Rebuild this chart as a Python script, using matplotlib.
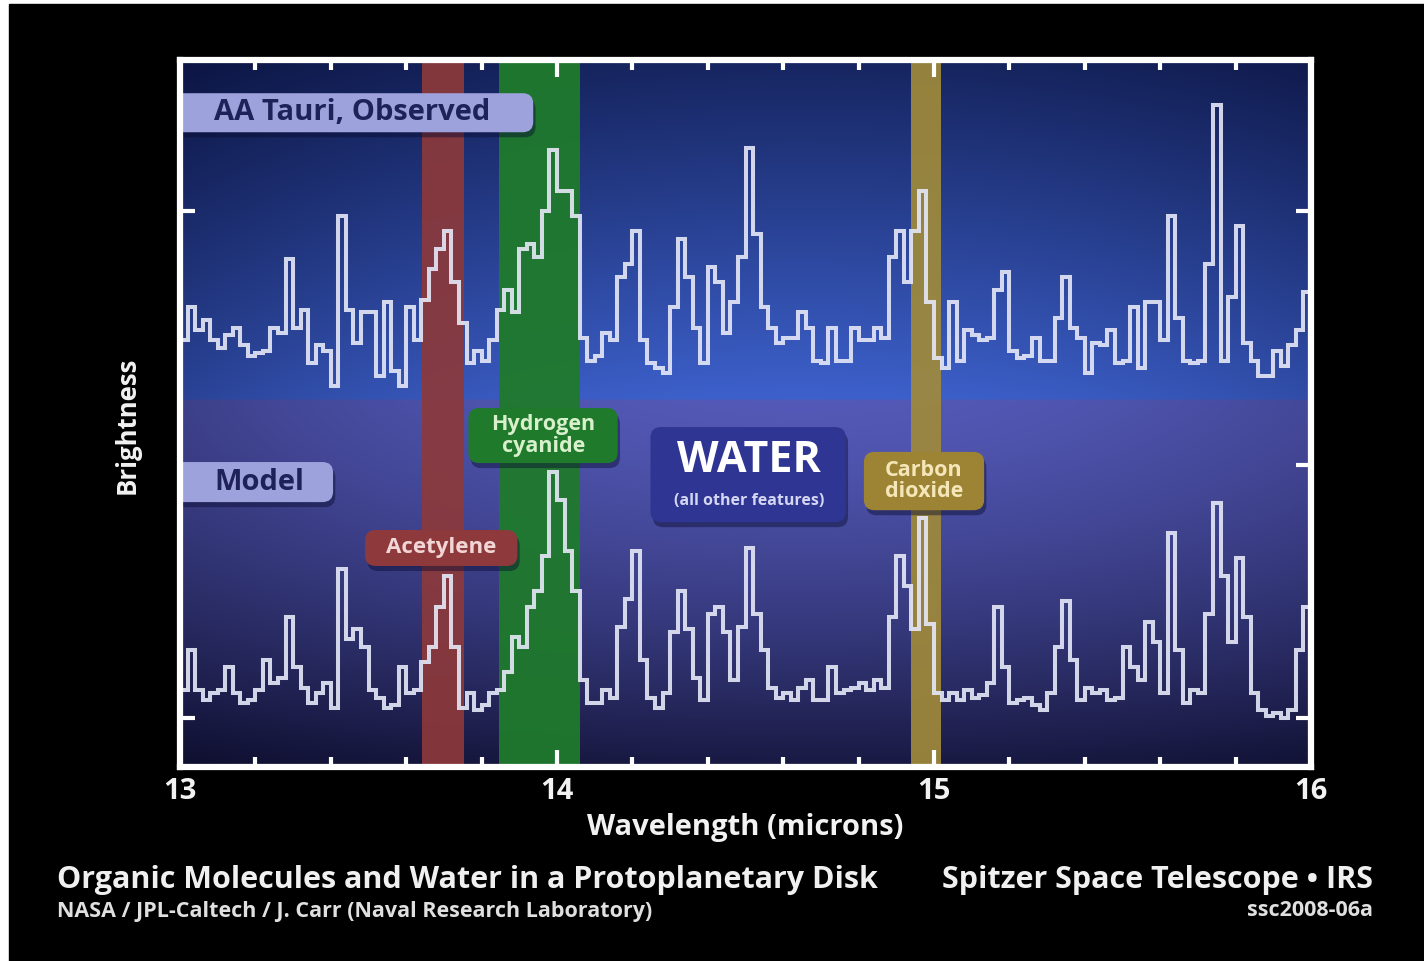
import numpy as np
import matplotlib.pyplot as plt
from matplotlib.patches import FancyBboxPatch, Rectangle

plt.rcParams['font.family'] = ['Open Sans', 'DejaVu Sans']
plt.rcParams['font.weight'] = 'bold'

# IRS spectrum, 150 bins of 0.02 micron from 13 to 16 microns
wave_edges = np.linspace(13.0, 16.0, 151)

# AA Tauri, observed (arbitrary brightness units, offset above the model)
observed = [
    149, 162, 153, 157, 149, 146, 151, 154, 147, 143,
    144, 145, 154, 152, 181, 154, 161, 140, 147, 145,
    131, 198, 161, 148, 160, 160, 135, 164, 137, 131,
    162, 149, 165, 177, 185, 192, 172, 156, 140, 145,
    141, 149, 161, 169, 160, 185, 187, 182, 200, 224,
    208, 208, 198, 150, 141, 143, 152, 149, 174, 179,
    192, 149, 140, 138, 136, 162, 189, 174, 154, 140,
    178, 172, 152, 164, 182, 225, 191, 162, 154, 148,
    150, 150, 160, 154, 141, 140, 154, 141, 141, 154,
    149, 149, 154, 150, 182, 192, 172, 192, 208, 164,
    142, 138, 164, 141, 153, 151, 149, 150, 169, 176,
    145, 142, 143, 150, 141, 141, 158, 174, 154, 150,
    136, 148, 147, 153, 140, 141, 162, 138, 164, 164,
    149, 198, 158, 141, 140, 141, 179, 242, 141, 166,
    194, 148, 141, 135, 135, 145, 139, 147, 153, 168,
]

# model spectrum
model = [
    11, 27, 11, 7, 10, 11, 20, 10, 6, 7,
    11, 23, 14, 16, 40, 20, 12, 6, 10, 14,
    4, 59, 31, 35, 28, 11, 8, 4, 5, 20,
    10, 11, 22, 28, 44, 56, 28, 4, 10, 3,
    5, 10, 11, 18, 32, 28, 44, 50, 64, 97,
    86, 66, 50, 15, 6, 6, 11, 8, 36, 47,
    66, 23, 8, 4, 10, 34, 50, 35, 16, 7,
    41, 44, 34, 15, 36, 67, 41, 27, 12, 8,
    10, 7, 12, 15, 7, 7, 20, 10, 11, 12,
    14, 11, 15, 12, 40, 64, 52, 35, 79, 37,
    10, 7, 10, 7, 11, 8, 9, 14, 44, 20,
    6, 7, 8, 5, 3, 10, 28, 46, 23, 7,
    12, 10, 11, 7, 8, 28, 20, 15, 38, 30,
    10, 73, 27, 6, 11, 10, 41, 85, 56, 30,
    63, 40, 10, 3, 1, 2, 0, 3, 27, 44,
]

wave_ticks = [13, 14, 15, 16]
bright_ticks = [0, 100, 200]

# molecular features (microns)
acetylene_band = (13.643, 13.752)
hcn_band = (13.845, 14.062)
co2_band = (14.939, 15.019)

fig = plt.figure(figsize=(14.24, 9.61), dpi=100, facecolor='white')
fig.add_artist(Rectangle((9 / 1424, 0), 1, 1 - 4 / 961, transform=fig.transFigure,
                         color='black', zorder=-10))

ax = fig.add_axes([180 / 1424, 194 / 961, 1131 / 1424, 707 / 961])
ymin, ymax = -19.3, 259.6

# background shading: blue upper panel, violet lower panel
ny, nx = 360, 480
yy = np.linspace(1, 0, ny)[:, None]
xx = np.linspace(0, 1, nx)[None, :]
split = 0.519
h = np.clip(1 - ((xx - 0.55) / 0.6) ** 2, 0, 1)
s_top = np.clip((yy - split) / (1 - split), 0, 1)
s_bot = np.clip((split - yy) / split, 0, 1)
f_top = (1 - s_top) * 0.55 + 0.45 * h * (1 - 0.45 * s_top)
f_bot = (1 - s_bot ** 1.6) * 0.6 + 0.4 * h * (1 - 0.6 * s_bot)
dark_t, bright_t = np.array([0.04, 0.07, 0.24]), np.array([0.24, 0.38, 0.80])
dark_b, bright_b = np.array([0.05, 0.05, 0.17]), np.array([0.33, 0.35, 0.72])
img = np.where((yy > split)[..., None],
               dark_t + (bright_t - dark_t) * f_top[..., None],
               dark_b + (bright_b - dark_b) * f_bot[..., None])
ax.imshow(img, extent=[13, 16, ymin, ymax], aspect='auto', zorder=0,
          interpolation='bilinear')

ax.axvspan(*acetylene_band, color='#8c393b', alpha=0.92, lw=0, zorder=1)
ax.axvspan(*hcn_band, color='#1f7a2c', alpha=0.95, lw=0, zorder=1)
ax.axvspan(*co2_band, color='#a08a3a', alpha=0.92, lw=0, zorder=1)

line_kw = dict(baseline=None, color='#e6e8f8', lw=2.9, alpha=0.9, zorder=3)
ax.stairs(observed, wave_edges, **line_kw)
ax.stairs(model, wave_edges, **line_kw)

ax.set_xlim(13, 16)
ax.set_ylim(ymin, ymax)
ax.set_xticks(wave_ticks)
ax.set_xticks(np.arange(13, 16.01, 0.2), minor=True)
ax.set_yticks(bright_ticks)
ax.set_yticklabels([])
ax.tick_params(which='both', direction='in', top=True, right=True,
               colors='white', width=3)
ax.tick_params(which='major', length=12)
ax.tick_params(which='minor', length=7)
ax.tick_params(axis='y', length=11)
ax.tick_params(axis='x', labelsize=21, pad=7, labelcolor='#f2f2f2')
for sp in ax.spines.values():
    sp.set_color('white')
    sp.set_linewidth(4.5)
    sp.set_zorder(6)

ASPECT = 148.5


def label_box(x0, x1, y0, y1, fc, shadow=True):
    style = 'round,pad=0,rounding_size=0.028'
    if shadow:
        ax.add_patch(FancyBboxPatch((x0 + 0.006, y0 - 2.0), x1 - x0, y1 - y0,
                                    boxstyle=style, mutation_aspect=ASPECT,
                                    fc='#0a0c30', ec='none', alpha=0.45, zorder=4))
    ax.add_patch(FancyBboxPatch((x0, y0), x1 - x0, y1 - y0, boxstyle=style,
                                mutation_aspect=ASPECT, fc=fc, ec='none', zorder=4.5))


label_box(12.97, 13.937, 231.1, 246.5, '#9ea2dc')
ax.text(13.09, 238.8, 'AA Tauri, Observed', fontsize=21, color='#1e2258',
        ha='left', va='center', zorder=5)

label_box(12.97, 13.406, 85.2, 101.0, '#9ea2dc')
ax.text(13.09, 93.1, 'Model', fontsize=21, color='#1e2258',
        ha='left', va='center', zorder=5)

label_box(13.491, 13.895, 60.0, 74.2, '#8e3a3c')
ax.text(13.693, 67.1, 'Acetylene', fontsize=16, color='#f2d6d6',
        ha='center', va='center', zorder=5)

label_box(13.765, 14.161, 100.6, 122.3, '#1f7a2c')
ax.text(13.964, 111.5, 'Hydrogen\ncyanide', fontsize=15.5, color='#d8f0cc',
        ha='center', va='center', linespacing=1.02, zorder=5)

label_box(14.248, 14.766, 77.3, 114.8, '#2e3592')
ax.text(14.509, 101.5, 'WATER', fontsize=31, color='white',
        ha='center', va='center', zorder=5)
ax.text(14.509, 85.8, '(all other features)', fontsize=11.5, color='#d4d6f2',
        ha='center', va='center', zorder=5)

label_box(14.814, 15.133, 82.0, 105.0, '#9c8434')
ax.text(14.973, 93.6, 'Carbon\ndioxide', fontsize=15.5, color='#f4e6b8',
        ha='center', va='center', linespacing=1.02, zorder=5)

fig.text(127 / 1424, 1 - 425 / 961, 'Brightness', rotation=90, fontsize=18.5,
         color='#f2f2f2', ha='center', va='center')
fig.text(745 / 1424, 1 - 828 / 961, 'Wavelength (microns)', fontsize=21,
         color='#f2f2f2', ha='center', va='center')

fig.text(57 / 1424, 1 - 880 / 961, 'Organic Molecules and Water in a Protoplanetary Disk',
         fontsize=22, color='#f0f0f0', ha='left', va='center')
fig.text(1373 / 1424, 1 - 880 / 961, 'Spitzer Space Telescope • IRS',
         fontsize=22, color='#f0f0f0', ha='right', va='center')
fig.text(57 / 1424, 1 - 911 / 961, 'NASA / JPL-Caltech / J. Carr (Naval Research Laboratory)',
         fontsize=15.5, color='#e0e0e0', ha='left', va='center')
fig.text(1373 / 1424, 1 - 911 / 961, 'ssc2008-06a',
         fontsize=15.5, color='#e0e0e0', ha='right', va='center')

fig.savefig('out.png', dpi=100, facecolor=fig.get_facecolor())
